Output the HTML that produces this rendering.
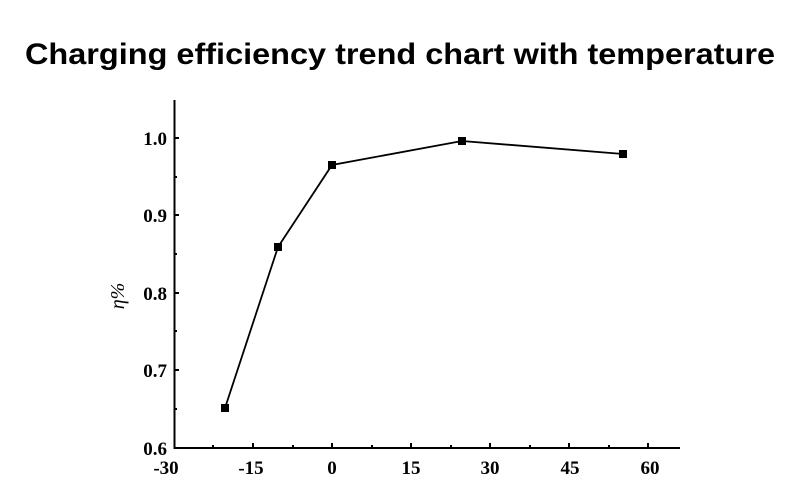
<!DOCTYPE html>
<html><head><style>body{margin:0;background:#fff}svg{display:block}</style></head><body>
<svg width="800" height="500" xmlns="http://www.w3.org/2000/svg">
<text x="400" y="64" text-anchor="middle" font-family="Liberation Sans, sans-serif" font-size="30" font-weight="bold" textLength="750" lengthAdjust="spacingAndGlyphs" fill="#000">Charging efficiency trend chart with temperature</text>
<g stroke="#000" stroke-width="2" fill="none">
<path d="M174.5,100 V448 H680"/>
<path d="M174,138h5 M174,177h3 M174,215h5 M174,254h3 M174,293h5 M174,331h3 M174,370h5 M174,409h3"/>
<path d="M213,448v-3 M253,448v-5 M293,448v-3 M332,448v-5 M372,448v-3 M411,448v-5 M451,448v-3 M490,448v-5 M530,448v-3 M569,448v-5 M609,448v-3 M648,448v-5"/>
<polyline stroke-width="1.8" points="225,408 278,247 332,165 462,141 623,154"/>
</g>
<g fill="#000">
<rect x="221" y="404" width="8" height="8"/><rect x="274" y="243" width="8" height="8"/><rect x="328" y="161" width="8" height="8"/><rect x="458" y="137" width="8" height="8"/><rect x="619" y="150" width="8" height="8"/>
</g>
<g font-family="Liberation Serif, serif" font-size="19" font-weight="bold" fill="#000">
<g text-anchor="end"><text x="167" y="145">1.0</text><text x="167" y="222">0.9</text><text x="167" y="300">0.8</text><text x="167" y="377">0.7</text><text x="167" y="455">0.6</text></g>
<g text-anchor="middle"><text x="166" y="474">-30</text><text x="251" y="474">-15</text><text x="332" y="474">0</text><text x="411" y="474">15</text><text x="490" y="474">30</text><text x="570" y="474">45</text><text x="650" y="474">60</text></g>
<text transform="translate(124,296) rotate(-90)" text-anchor="middle" font-style="italic" font-weight="normal" font-size="20">η%</text>
</g>
</svg>
</body></html>
